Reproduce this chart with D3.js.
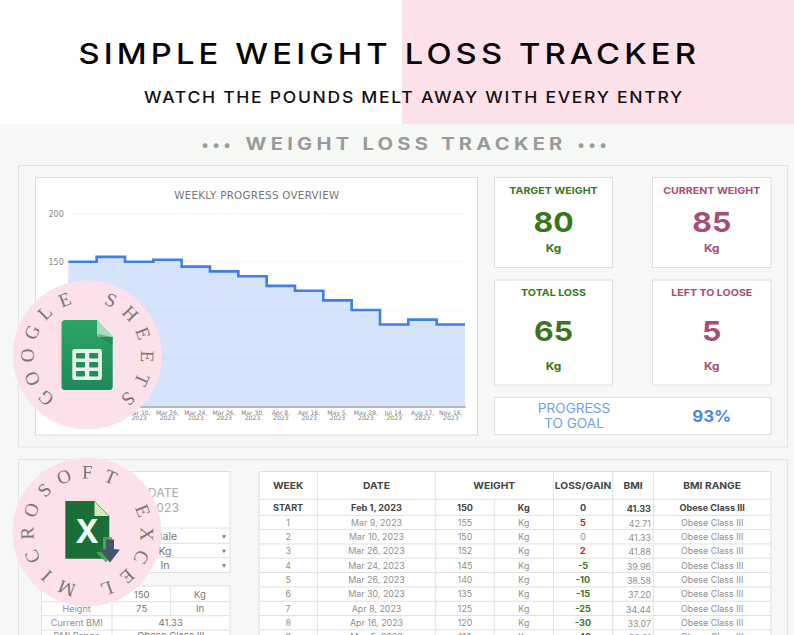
<!DOCTYPE html>
<html><head><meta charset="utf-8">
<script src="https://cdn.jsdelivr.net/npm/d3@7"></script>
<style>html,body{margin:0;padding:0;background:#fff;overflow:hidden}svg{display:block}text{font-family:Inter,"Open Sans",sans-serif}</style>
</head><body><svg id="c" width="794" height="635"></svg>
<script>
const chartLabels=["Feb 1, 2023","Mar 9, 2023","Mar 10, 2023","Mar 26, 2023","Mar 24, 2023","Mar 26, 2023","Mar 30, 2023","Apr 8, 2023","Apr 16, 2023","May 5, 2023","May 28, 2023","Jul 14, 2023","Aug 17, 2023","Nov 16, 2023"];
const chartWeights=[150,155,150,152,145,140,135,125,120,110,100,85,90,85];
const yTicks=[0,50,100,150,200];
const tableWeeks=["START","1","2","3","4","5","6","7","8","9"];
const tableDates=chartLabels.slice(0,10);
const tableLoss=[0,5,0,2,-5,-10,-15,-25,-30,-40];
const tableBmi=["41.33","42.71","41.33","41.88","39.96","38.58","37.20","34.44","33.07","30.31"];
const tableRange="Obese Class III";
const tableUnit="Kg";

const svg=d3.select("#c");
const INK="#444",MUTE="#8f8f8f",LINE="#dfe0df",GREEN="#38761d",PLUM="#a64d79",BLUE="#4a86e8";
function rect(x0,y0,x1,y1,fill,stroke){return svg.append("rect").attr("x",x0).attr("y",y0).attr("width",x1-x0).attr("height",y1-y0).attr("fill",fill).attr("stroke",stroke||"none");}
function hl(x0,x1,y,c){svg.append("line").attr("x1",x0).attr("x2",x1).attr("y1",y).attr("y2",y).attr("stroke",c||LINE);}
function vl(x,y0,y1,c){svg.append("line").attr("x1",x).attr("x2",x).attr("y1",y0).attr("y2",y1).attr("stroke",c||LINE);}
function txt(s,x,y,o={}){
  const t=svg.append("text").attr("x",x).attr("y",y).attr("text-anchor",o.anchor||"middle")
    .attr("font-size",o.size||9).attr("font-weight",o.weight||400).attr("fill",o.fill||INK).text(s);
  if(o.font)t.style("font-family",o.font);
  if(o.ls)t.attr("letter-spacing",o.ls);
  if(o.width)t.attr("textLength",o.width).attr("lengthAdjust",o.adjust||"spacing");
  else if(o.k){const w=t.node().getComputedTextLength();t.attr("textLength",w*o.k).attr("lengthAdjust","spacingAndGlyphs");}
  return t;
}

// page background
rect(0,0,794,124,"#fff");
rect(402,0,794,124,"#fde1ea");
rect(0,124,794,635,"#f5f8f5");
txt("SIMPLE WEIGHT LOSS TRACKER",78.5,63.5,{anchor:"start",size:28.5,weight:500,fill:"#050505",width:621.5,adjust:"spacingAndGlyphs",ls:3.6});
txt("WATCH THE POUNDS MELT AWAY WITH EVERY ENTRY",144,102.6,{anchor:"start",size:16.4,weight:500,fill:"#111",width:540,adjust:"spacingAndGlyphs",ls:1.6});
txt("•••",216,150,{size:15,weight:700,fill:"#9a9a9a",width:29});
txt("WEIGHT LOSS TRACKER",245.6,150,{anchor:"start",size:17,weight:700,fill:"#9a9a9a",width:321,adjust:"spacingAndGlyphs",ls:3.6});
txt("•••",592,150,{size:15,weight:700,fill:"#9a9a9a",width:29});

// panels
rect(18.5,165.5,787.5,447,"#f5f8f5","#e1e4e1");
rect(18.5,459.5,787.5,660,"#f5f8f5","#e1e4e1");

// chart
rect(35.5,177.5,477.5,435,"#fff","#d9dcdc");
txt("WEEKLY PROGRESS OVERVIEW",256.7,199,{size:10.3,fill:"#757575",font:"'DejaVu Sans'",width:165});
const x=d3.scaleBand().domain(d3.range(chartWeights.length)).range([68.3,465]);
const y=d3.scaleLinear().domain([0,200]).range([406.5,213.5]);
const stepPts=chartWeights.map((v,i)=>[x(i),v]).concat([[x.range()[1],chartWeights[chartWeights.length-1]]]);
const plot=svg.append("g");
plot.append("path").attr("d",d3.area().x(d=>d[0]).y0(y(0)).y1(d=>y(d[1])).curve(d3.curveStepAfter)(stepPts)).attr("fill","#d5e3fb");
const gridVals=d3.range(0,13).map(i=>i*50/3);
plot.append("g").selectAll("line").data(gridVals).join("line").attr("x1",x.range()[0]).attr("x2",x.range()[1])
  .attr("y1",d=>y(d)).attr("y2",d=>y(d)).attr("stroke","#000").attr("stroke-opacity",d=>d%50<0.01?0.035:0.016);
plot.append("path").attr("d",d3.line().x(d=>d[0]).y(d=>y(d[1])).curve(d3.curveStepAfter)(stepPts)).attr("fill","none").attr("stroke","#3f7fe6").attr("stroke-width",2.6);
const yAx=plot.append("g").attr("transform","translate(68.3,0)").call(d3.axisLeft(y).tickValues(yTicks).tickSize(0).tickPadding(4.5));
yAx.select(".domain").remove();
yAx.selectAll("text").attr("font-size",8).attr("fill","#888").style("font-family","'DejaVu Sans'");
const xAx=plot.append("g").attr("transform","translate(0,406.5)").call(d3.axisBottom(x).tickSize(0).tickFormat(""));
xAx.select(".domain").attr("stroke","#9aa4b4").attr("stroke-width",1.3);
xAx.selectAll(".tick text").remove();
chartLabels.forEach((l,i)=>{
  const p=l.split(", "),cx=x(i)+x.bandwidth()/2;
  txt(p[0]+",",cx,414.6,{size:6.1,fill:"#808080",font:"'DejaVu Sans'"});
  txt(p[1],cx,420.4,{size:6.1,fill:"#808080",font:"'DejaVu Sans'"});
});

// cards
function card(x0,y0,x1,y1,title,val,col,yt,yv,yk){
  rect(x0,y0,x1,y1,"#fff","#dcdedc");const c=(x0+x1)/2;
  txt(title,c,yt,{size:9.4,weight:700,fill:col,k:1.13});
  txt(val,c,yv,{size:27.5,weight:700,fill:col,k:1.1});
  txt("Kg",c,yk,{size:11,weight:700,fill:col,k:1.08});
}
card(494.5,177.5,612.5,267.5,"TARGET WEIGHT","80",GREEN,193.6,231.7,252);
card(652.5,177.5,771,267.5,"CURRENT WEIGHT","85",PLUM,193.6,231.7,252);
card(494.5,280,612.5,385,"TOTAL LOSS","65",GREEN,296.3,341,370);
card(652.5,280,771,385,"LEFT TO LOOSE","5",PLUM,296.3,341,370);
rect(494.5,397.5,771,434.5,"#fff","#dcdedc");
txt("PROGRESS",574,413.3,{size:12.6,fill:"#6d9eeb",k:1.08});
txt("TO GOAL",574,428.3,{size:12.6,fill:"#6d9eeb",k:1.08});
txt("93%",711.7,422.3,{size:16,weight:700,fill:BLUE,k:1.05});

// main table
const cols=[259,317.3,435.7,494.3,553.3,612.7,653.3,771];
const c=i=>(cols[i]+cols[i+1])/2;
const rowTop=[499.3,515.3];
tableWeeks.slice(1).forEach((_,i)=>rowTop.push(515.3+(i+1)*14.32));
rect(259,471.5,771,660,"#fff",LINE);
rowTop.forEach(v=>hl(259,771,v));
cols.slice(1,-1).forEach((v,i)=>{ vl(v,i===2?499.3:471.5,660); });
const H={size:9.3,weight:700,fill:INK,k:1.1};
txt("WEEK",c(0),489.4,H);txt("DATE",c(1),489.4,H);txt("WEIGHT",cols[3],489.4,H);
txt("LOSS/GAIN",c(4),489.4,H);txt("BMI",633,489.4,H);txt("BMI RANGE",c(6),489.4,H);
tableWeeks.forEach((w,i)=>{
  const b=i===0,Y=b?510.6:(515.3+(i-1)*14.32+10.3);
  const base={size:b?8.6:8.4,weight:b?700:400,fill:b?INK:MUTE,k:1.06};
  txt(w,c(0),Y,base);
  txt(tableDates[i],c(1),Y,base);
  txt(String(chartWeights[i]),c(2),Y,base);
  txt(tableUnit,c(3),Y,base);
  const l=tableLoss[i];
  txt(String(l),c(4),Y,l===0?base:{size:8.6,weight:700,fill:l>0?"#c62828":GREEN,k:1.06});
  txt(tableBmi[i],651,Y+1,Object.assign({},base,{anchor:"end"}));
  txt(tableRange,c(6),Y,base);
});

// settings block
rect(41.5,471.5,230,572.5,"#fff",LINE);
[528,543.3,557.7].forEach(v=>hl(41.5,230,v));
txt("START DATE",179,496.7,{anchor:"end",size:11.6,fill:"#aaa",k:1.06});
txt("Feb 1, 2023",179,512.3,{anchor:"end",size:11.6,fill:"#aaa",k:1.06});
[["Male",540],["Kg",554.5],["In",569]].forEach(([s,Y])=>{
  txt(s,165,Y,{size:10,fill:"#777",k:1.06});
  svg.append("path").attr("d",d3.symbol(d3.symbolTriangle,7)()).attr("transform",`translate(224,${Y-3.5}) rotate(180)`).attr("fill","#777");
});
rect(41.5,586,230,660,"#fff",LINE);
[601.7,615.7,630].forEach(v=>hl(41.5,230,v));
vl(112,586,660);vl(170.7,586,615.7);
[["Weight","150","Kg",598],["Height","75","In",611.8]].forEach(([a,b,u,Y])=>{
  txt(a,76.7,Y,{size:8.6,fill:MUTE,k:1.06});txt(b,141.7,Y,{size:9.6,fill:"#777"});txt(u,200,Y,{size:9.6,fill:"#777"});
});
txt("Current BMI",76.7,625.8,{size:8.6,fill:MUTE,k:1.06});txt("41.33",170.7,626,{size:9.6,fill:"#777"});
txt("BMI Range",76.7,639,{size:8.6,fill:MUTE,k:1.06});txt(tableRange,170.7,639,{size:9.6,fill:"#777"});

// badges
function ring(cx,cy,word,startAngle,step){
  svg.append("circle").attr("cx",cx).attr("cy",cy).attr("r",74.5).attr("fill","#fde1ea");
  word.split("").forEach((ch,i)=>{
    if(ch===" ")return;
    svg.append("text").attr("transform",`translate(${cx},${cy}) rotate(${startAngle+i*step}) translate(0,-53.5)`)
      .attr("text-anchor","middle").attr("font-size",19).attr("fill","#777").style("font-family","'Liberation Serif'").text(ch);
  });
}
ring(87.3,355,"GOOGLE SHEETS",224,22.75);
ring(87,532,"MICROSOFT EXCEL",200,22.9);

const defs=svg.append("defs");
const gr=defs.append("linearGradient").attr("id","sh").attr("x1",0).attr("y1",0).attr("x2",0).attr("y2",1);
gr.append("stop").attr("offset",0).attr("stop-color","#2ba565");gr.append("stop").attr("offset",1).attr("stop-color","#1f8a58");
// sheets icon
svg.append("path").attr("d","M65,320H97L112.7,337V386.5a3.5,3.5 0 0 1 -3.5,3.5H65a3.5,3.5 0 0 1 -3.5,-3.5V323.5a3.5,3.5 0 0 1 3.5,-3.5Z").attr("fill","url(#sh)");
svg.append("path").attr("d","M97,320L112.7,337H100a3,3 0 0 1 -3,-3Z").attr("fill","#a9dcc0");
svg.append("path").attr("d","M97,334L112.7,337V345L100,337Z").attr("fill","#1b8050").attr("opacity",.5);
svg.append("rect").attr("x",72.3).attr("y",349).attr("width",29.6).attr("height",31).attr("rx",2).attr("fill","#e8f1ec");
[0,1].forEach(i=>[0,1,2].forEach(j=>svg.append("rect").attr("x",76+i*13.2).attr("y",353+j*9).attr("width",9).attr("height",5.4).attr("rx",.8).attr("fill","#1f9058")));
// excel icon
svg.append("path").attr("d","M65.3,501H94.5L109.3,516V558.7H65.3Z").attr("fill","#1a6f38");
svg.append("path").attr("d","M94.5,501.5L108.8,516H94.5Z").attr("fill","#d3eabb");
svg.append("text").attr("x",87).attr("y",542.5).attr("text-anchor","middle").attr("font-size",32).attr("font-weight",700).attr("fill","#f3f7f3").text("X");
svg.append("path").attr("d","M103,537H112V549H118L106,562.5L96,552H103Z").attr("fill","#4caf50").attr("opacity",.85);
svg.append("path").attr("d","M106,539.5H114V549.5H120L110,562.5L99.5,549.5H106Z").attr("fill","#44546a");
</script></body></html>
